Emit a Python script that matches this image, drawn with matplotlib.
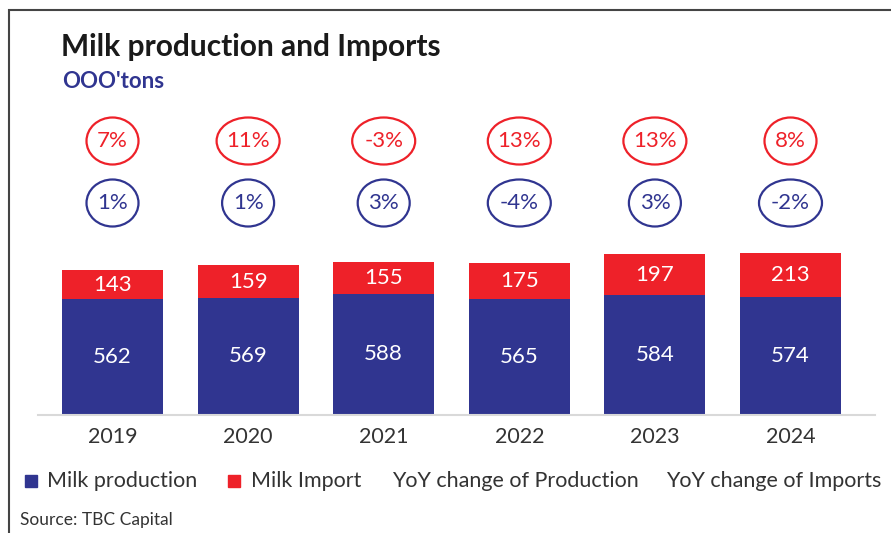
import numpy as np
import matplotlib.pyplot as plt
from matplotlib.patches import Ellipse, Rectangle

plt.rcParams['font.family'] = ['Lato', 'DejaVu Sans']

years = ['2019', '2020', '2021', '2022', '2023', '2024']
production = [562, 569, 588, 565, 584, 574]
imports = [143, 159, 155, 175, 197, 213]
yoy_prod = ['1%', '1%', '3%', '-4%', '3%', '-2%']
yoy_imp = ['7%', '11%', '-3%', '13%', '13%', '8%']

navy = '#303590'
red = '#EE2129'
dark = '#333333'

W, H = 891, 533
fig = plt.figure(figsize=(W / 100, H / 100), dpi=100)

# axes box in pixels: left 38, right 875, baseline 414.5, top 110
px_per_unit = 0.205
ax_h_px = 414.5 - 110
ax = fig.add_axes([38 / W, (H - 414.5) / H, (875 - 38) / W, ax_h_px / H])
step = 135.6
x = np.arange(len(years))
ax.set_xlim(-(112.5 - 38) / step, 5 + (875 - 790.5) / step)
ax.set_ylim(0, ax_h_px / px_per_unit)

ax.bar(x, production, width=0.745, color=navy)
ax.bar(x, imports, width=0.745, bottom=production, color=red)

for i in range(len(years)):
    ax.text(x[i], production[i] / 2, str(production[i]), ha='center', va='center',
            color='white', fontsize=16)
    ax.text(x[i], production[i] + imports[i] / 2, str(imports[i]), ha='center',
            va='center', color='white', fontsize=16)

# YoY ellipses (sizes given in pixels, converted to data units)
def badge(xc, y_px, label, col):
    w_px = 30 + 11 * len(label)
    h_px = 47
    yc = (414.5 - y_px) / px_per_unit
    e = Ellipse((xc, yc), w_px / step, h_px / px_per_unit, fill=False,
                edgecolor=col, linewidth=1.6, clip_on=False)
    ax.add_patch(e)
    ax.text(xc, yc, label, ha='center', va='center', color=col, fontsize=16)

for i in range(len(years)):
    badge(x[i], 141, yoy_imp[i], red)
    badge(x[i], 203, yoy_prod[i], navy)

ax.set_xticks(x)
ax.set_xticklabels(years, fontsize=15.5, color=dark)
ax.tick_params(axis='x', length=0, pad=9)
ax.set_yticks([])
for s in ['top', 'right', 'left']:
    ax.spines[s].set_visible(False)
ax.spines['bottom'].set_color('#d9d9d9')
ax.spines['bottom'].set_linewidth(1.5)

# titles
fig.text(61 / W, 1 - 47 / H, 'Milk production and Imports', fontsize=21.5,
         fontweight='bold', color='#1a1a1a', va='center')
fig.text(62 / W, 1 - 81 / H, "OOO'tons", fontsize=16, fontweight='bold',
         color=navy, va='center')

# legend row
ly = 1 - 481 / H
fs_leg = 15.5
fig.add_artist(Rectangle((25 / W, ly - 6 / H), 12 / W, 12 / H, color=navy))
fig.text(47 / W, ly, 'Milk production', fontsize=fs_leg, color=dark, va='center')
fig.add_artist(Rectangle((228 / W, ly - 6 / H), 12 / W, 12 / H, color=red))
fig.text(251 / W, ly, 'Milk Import', fontsize=fs_leg, color=dark, va='center')
fig.text(392 / W, ly, 'YoY change of Production', fontsize=fs_leg, color=dark, va='center')
fig.text(666 / W, ly, 'YoY change of Imports', fontsize=fs_leg, color=dark, va='center')

fig.text(20 / W, 1 - 520 / H, 'Source: TBC Capital', fontsize=12.5, color=dark, va='center')

# frame border (top and left edges visible)
fig.add_artist(Rectangle((9 / W, -0.1), 1.5, 1.1 - 10 / H, fill=False,
                         edgecolor='#444444', linewidth=1.5))

fig.savefig('out.png', dpi=100)
